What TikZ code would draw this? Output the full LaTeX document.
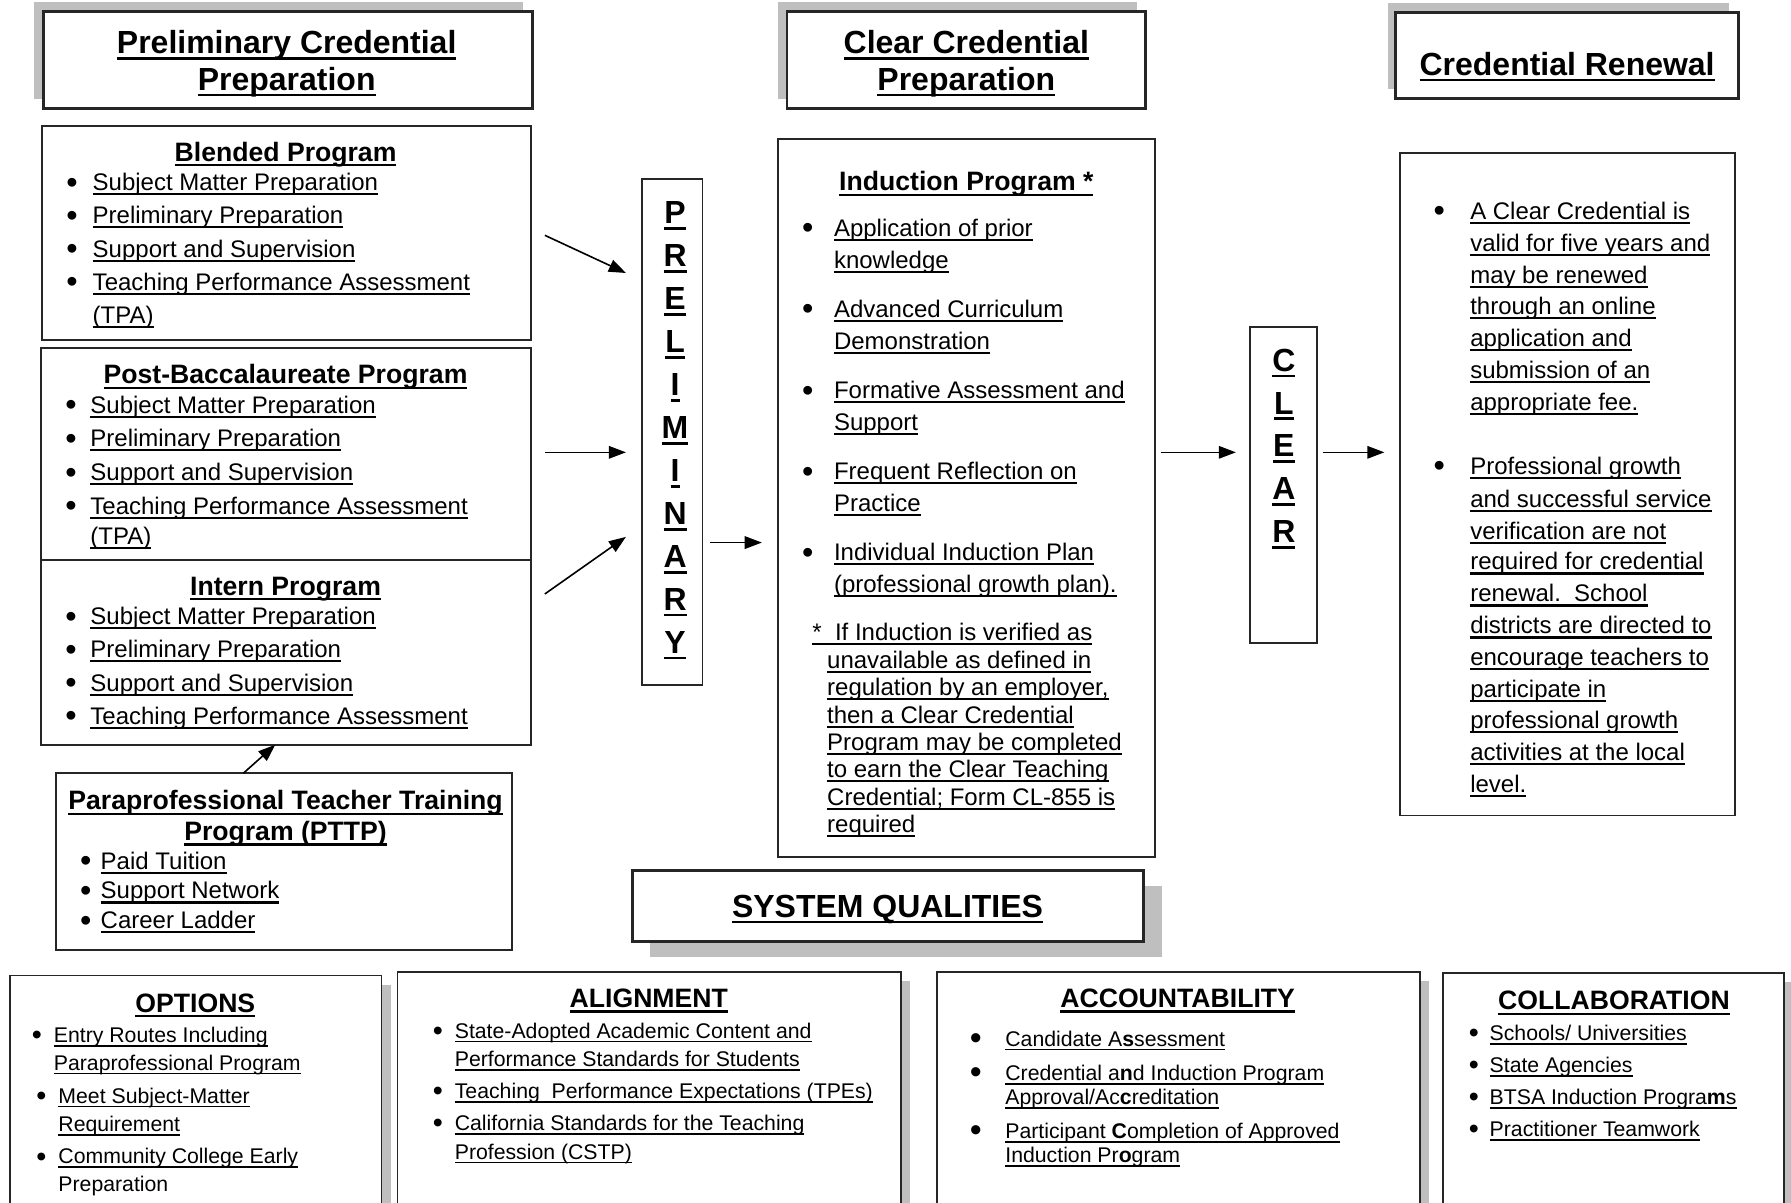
\documentclass[tikz,border=0pt]{standalone}
\usepackage{fontspec}
\setmainfont{Liberation Sans}
\usetikzlibrary{arrows.meta}
\newcommand\fT{\fontsize{28}{32}\selectfont\bfseries}
\newcommand\fS{\fontsize{23.3}{27}\selectfont\bfseries}
\newcommand\fB{\fontsize{21}{29}\selectfont}
\newcommand\fN{\fontsize{18.6}{24}\selectfont}
\newcommand\ul[1]{\setbox0=\hbox{#1}\rlap{\rule[-0.19em]{\wd0}{0.085em}}\box0}
\newcommand\bu[1]{\llap{\makebox[#1pt][l]{\raisebox{-0.1em}{\scalebox{1.35}{\textbullet}}}}}
\newcommand\bub[1]{\llap{\makebox[#1pt][l]{\raisebox{-0.14em}{\scalebox{1.6}{\textbullet}}}}}
\newcounter{ln}
% \tx[style]{x}{y}{text}
\newcommand\tx[4][body]{\stepcounter{ln}\node[#1] (L\arabic{ln}) at (#2,#3) {#4};}
% \bx[style]{x1}{y1}{x2}{y2}{name}
\newcommand\bx[6][box]{\node[#1,anchor=north west,minimum width={#4pt-#2pt},minimum height={#5pt-#3pt}] (#6) at (#2,#3) {};}
\tikzset{
  box/.style={draw=black!85, line width=1.6pt, fill=white, inner sep=0pt, outer sep=0pt},
  hdr/.style={box, line width=2.3pt},
  shd/.style={fill=black!25},
  body/.style={font=\fB, inner sep=0pt, anchor=base west},
  small/.style={font=\fN, inner sep=0pt, anchor=base west},
  ttl/.style={font=\fT, inner sep=0pt, anchor=base},
  sub/.style={font=\fS, inner sep=0pt, anchor=base},
  arr/.style={line width=1.4pt, -{Triangle[length=15pt,width=11pt]}}
}
\begin{document}
\begin{tikzpicture}[x=1pt,y=-1pt]
\useasboundingbox (0,0) rectangle (1568,1053);
\clip (0,0) rectangle (1568,1053);
\fill[white] (0,0) rectangle (1568,1053);

% ---------- header boxes ----------
\fill[shd] (30,2) rectangle (458,87);
\bx[hdr]{38}{10}{466}{95}{h1}
\tx[ttl]{251}{47}{\ul{Preliminary Credential}}
\tx[ttl]{251}{79}{\ul{Preparation}}

\fill[shd] (681,2) rectangle (995,87);
\bx[hdr]{689}{10}{1003}{95}{h2}
\tx[ttl]{846}{47}{\ul{Clear Credential}}
\tx[ttl]{846}{79}{\ul{Preparation}}

\fill[shd] (1215,3) rectangle (1514,78);
\bx[hdr]{1222}{11}{1522}{86}{h3}
\tx[ttl]{1372}{66}{\ul{Credential Renewal}}

% ---------- Blended ----------
\bx{37}{110}{465}{298}{blended}
\tx[sub]{250}{141}{\ul{Blended Program}}
\tx{81}{167}{\bu{23}\ul{Subject Matter Preparation}}
\tx{81}{196}{\bu{23}\ul{Preliminary Preparation}}
\tx{81}{225}{\bu{23}\ul{Support and Supervision}}
\tx{81}{254}{\bu{23}\ul{Teaching Performance Assessment}}
\tx{81}{283}{\ul{(TPA)}}

% ---------- Post-Bacc ----------
\bx{36}{305}{465}{490}{postbacc}
\tx[sub]{250}{336}{\ul{Post-Baccalaureate Program}}
\tx{79}{362}{\bu{22}\ul{Subject Matter Preparation}}
\tx{79}{391}{\bu{22}\ul{Preliminary Preparation}}
\tx{79}{421}{\bu{22}\ul{Support and Supervision}}
\tx{79}{450}{\bu{22}\ul{Teaching Performance Assessment}}
\tx{79}{477}{\ul{(TPA)}}

% ---------- Intern ----------
\bx{36}{490}{465}{652}{intern}
\tx[sub]{250}{521}{\ul{Intern Program}}
\tx{79}{547}{\bu{22}\ul{Subject Matter Preparation}}
\tx{79}{576}{\bu{22}\ul{Preliminary Preparation}}
\tx{79}{605}{\bu{22}\ul{Support and Supervision}}
\tx{79}{634}{\bu{22}\ul{Teaching Performance Assessment}}

% ---------- PTTP ----------
\bx{49}{677}{448}{832}{pttp}
\tx[sub]{250}{709}{\ul{Paraprofessional Teacher Training}}
\tx[sub]{250}{736}{\ul{Program (PTTP)}}
\tx{88}{761}{\bu{18}\ul{Paid Tuition}}
\tx{88}{787}{\bu{18}\ul{Support Network}}
\tx{88}{813}{\bu{18}\ul{Career Ladder}}

% ---------- PRELIMINARY ----------
\bx{562}{157}{615}{600}{prelim}
\foreach \l [count=\i from 0] in {P,R,E,L,I,M,I,N,A,R,Y}
  \node[ttl] (pl\i) at (591,{196+37.6*\i}) {\ul{\l}};

% ---------- Induction ----------
\bx{681}{122}{1011}{750}{induction}
\tx[sub]{846}{167}{\ul{Induction Program *}}
\tx{730}{207}{\bu{28}\ul{Application of prior}}
\tx{730}{235}{\ul{knowledge}}
\tx{730}{278}{\bu{28}\ul{Advanced Curriculum}}
\tx{730}{306}{\ul{Demonstration}}
\tx{730}{349}{\bu{28}\ul{Formative Assessment and}}
\tx{730}{377}{\ul{Support}}
\tx{730}{420}{\bu{28}\ul{Frequent Reflection on}}
\tx{730}{448}{\ul{Practice}}
\tx{730}{491}{\bu{28}\ul{Individual Induction Plan}}
\tx{730}{519}{\ul{(professional growth plan).}}
\tx{711}{561}{\ul{*\ \ If Induction is verified as}}
\tx{724}{585}{\ul{unavailable as defined in}}
\tx{724}{609}{\ul{regulation by an employer,}}
\tx{724}{633}{\ul{then a Clear Credential}}
\tx{724}{657}{\ul{Program may be completed}}
\tx{724}{681}{\ul{to earn the Clear Teaching}}
\tx{724}{705}{\ul{Credential; Form CL-855 is}}
\tx{724}{729}{\ul{required}}

% ---------- CLEAR ----------
\bx{1094}{286}{1153}{563}{clear}
\foreach \l [count=\i from 0] in {C,L,E,A,R}
  \node[ttl] (cl\i) at (1124,{325+37.5*\i}) {\ul{\l}};

% ---------- Renewal ----------
\bx{1226}{134}{1519}{714}{renewal}
\tx{1287}{192}{\bu{32}\ul{A Clear Credential is}}
\tx{1287}{220}{\ul{valid for five years and}}
\tx{1287}{248}{\ul{may be renewed}}
\tx{1287}{275}{\ul{through an online}}
\tx{1287}{303}{\ul{application and}}
\tx{1287}{331}{\ul{submission of an}}
\tx{1287}{359}{\ul{appropriate fee.}}
\tx{1287}{415}{\bu{32}\ul{Professional growth}}
\tx{1287}{444}{\ul{and successful service}}
\tx{1287}{472}{\ul{verification are not}}
\tx{1287}{499}{\ul{required for credential}}
\tx{1287}{527}{\ul{renewal.\ \ School}}
\tx{1287}{555}{\ul{districts are directed to}}
\tx{1287}{583}{\ul{encourage teachers to}}
\tx{1287}{611}{\ul{participate in}}
\tx{1287}{638}{\ul{professional growth}}
\tx{1287}{666}{\ul{activities at the local}}
\tx{1287}{694}{\ul{level.}}

% ---------- arrows ----------
\coordinate (a1s) at (477,206); \coordinate (a1e) at (548,239);
\coordinate (a2s) at (477,396); \coordinate (a2e) at (548,396);
\coordinate (a3s) at (477,520); \coordinate (a3e) at (548,470);
\coordinate (a4s) at (622,475); \coordinate (a4e) at (667,475);
\coordinate (a5s) at (1016,396); \coordinate (a5e) at (1082,396);
\coordinate (a6s) at (1158,396); \coordinate (a6e) at (1212,396);
\coordinate (a7s) at (213,677); \coordinate (a7e) at (241,652);
\draw[arr] (a1s) -- (a1e);
\draw[arr] (a2s) -- (a2e);
\draw[arr] (a3s) -- (a3e);
\draw[arr] (a4s) -- (a4e);
\draw[arr] (a5s) -- (a5e);
\draw[arr] (a6s) -- (a6e);
\draw[arr] (a7s) -- (a7e);

% ---------- SYSTEM QUALITIES ----------
\fill[shd] (569,776) rectangle (1017,838);
\bx[hdr]{554}{762}{1001}{824}{sysq}
\tx[ttl]{777}{803}{\ul{SYSTEM QUALITIES}}

% ---------- bottom boxes ----------
\fill[shd] (17,862) rectangle (342,1080);
\bx{9}{854}{334}{1080}{options}
\tx[sub]{171}{886}{\ul{OPTIONS}}
\tx[small]{47}{913}{\bu{19.3}\ul{Entry Routes Including}}
\tx[small]{47}{937}{\ul{Paraprofessional Program}}
\tx[small]{51}{966}{\bu{19.3}\ul{Meet Subject-Matter}}
\tx[small]{51}{991}{\ul{Requirement}}
\tx[small]{51}{1019}{\bu{19.3}\ul{Community College Early}}
\tx[small]{51}{1043}{Preparation}

\fill[shd] (356,859) rectangle (797,1080);
\bx{348}{851}{789}{1080}{alignment}
\tx[sub]{568}{882}{\ul{ALIGNMENT}}
\tx[small]{398}{909}{\bu{19.3}\ul{State-Adopted Academic Content and}}
\tx[small]{398}{934}{\ul{Performance Standards for Students}}
\tx[small]{398}{962}{\bu{19.3}\ul{Teaching\ \ Performance Expectations (TPEs)}}
\tx[small]{398}{990}{\bu{19.3}\ul{California Standards for the Teaching}}
\tx[small]{398}{1015}{\ul{Profession (CSTP)}}

\fill[shd] (828,859) rectangle (1251,1080);
\bx{820}{851}{1243}{1080}{accountability}
\tx[sub]{1031}{882}{\ul{ACCOUNTABILITY}}
\tx[small]{880}{916}{\bub{31}\ul{Candidate A\textbf{s}sessment}}
\tx[small]{880}{946}{\bub{31}\ul{Credential a\textbf{n}d Induction Program}}
\tx[small]{880}{967}{\ul{Approval/Ac\textbf{c}reditation}}
\tx[small]{880}{997}{\bub{31}\ul{Participant \textbf{C}ompletion of Approved}}
\tx[small]{880}{1018}{\ul{Induction Pr\textbf{o}gram}}

\fill[shd] (1271,860) rectangle (1570,1080);
\bx{1263}{852}{1562}{1080}{collaboration}
\tx[sub]{1413}{884}{\ul{COLLABORATION}}
\tx[small]{1304}{911}{\bu{18.3}\ul{Schools/ Universities}}
\tx[small]{1304}{939}{\bu{18.3}\ul{State Agencies}}
\tx[small]{1304}{967}{\bu{18.3}\ul{BTSA Induction Progra\textbf{m}s}}
\tx[small]{1304}{995}{\bu{18.3}\ul{Practitioner Teamwork}}
\end{tikzpicture}
\end{document}
